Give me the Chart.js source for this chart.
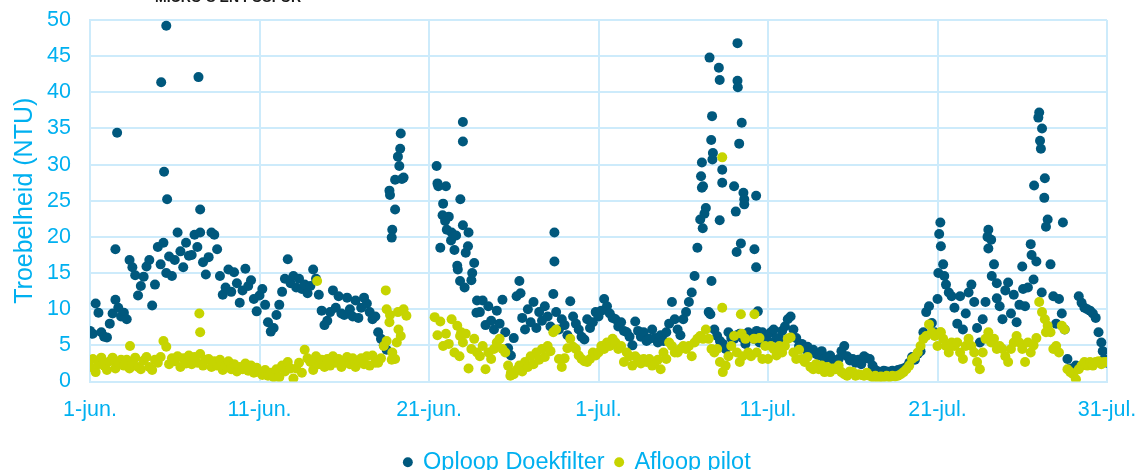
<!DOCTYPE html>
<html>
<head>
<meta charset="utf-8">
<script src="https://cdn.jsdelivr.net/npm/chart.js@4.4.1/dist/chart.umd.min.js"></script>
<style>
  html, body { margin: 0; padding: 0; background: #fff; }
  #wrap { position: relative; width: 1139px; height: 470px; overflow: hidden; }
  #title {
    position: absolute; left: 155px; top: -10px;
    font: bold 14px 'Liberation Sans', Arial, sans-serif; line-height: 14px;
    color: #1a1a1a; white-space: nowrap;
  }
  canvas { display: block; }
</style>
</head>
<body>
<div id="wrap">
  <canvas id="chart" width="1139" height="484"></canvas>
  <div id="title">MICRO-S EN FOSFOR</div>
</div>
<script>
// x = days since 1 June, 6 readings per day (every 4 h)
const tickLabels = ['1-jun.', '11-jun.', '21-jun.', '1-jul.', '11-jul.', '21-jul.', '31-jul.'];
const samplesPerDay = 6;

// Oploop Doekfilter (NTU), one row per day
const oploopValues = [
  7.0, 6.6, 10.8, 9.5, 6.8, 6.2,
  6.1, 8.0, 9.4, 11.3, 10.2, 9.0,
  9.5, 8.6, 16.8, 15.8, 14.7, 11.9,
  13.2, 14.5, 15.9, 16.8, 10.5, 13.4,
  18.6, 16.2, 19.2, 15.0, 17.3, 14.6,
  16.8, 20.6, 18.0, 15.8, 19.2, 17.4,
  17.5, 20.3, 18.6, 20.6, 16.5, 14.8,
  17.2, 20.6, 20.3, 18.3, 14.6, 12.0,
  13.0, 15.5, 12.4, 15.1, 13.6, 10.9,
  12.6, 15.6, 13.2, 14.0, 11.4, 9.7,
  11.9, 12.8, 10.6, 8.2, 6.9, 7.4,      // 11-jun
  9.2, 10.6, 12.4, 14.2, 16.9, 13.6,
  14.6, 13.0, 14.2, 12.8, 13.4, 12.2,
  13.2, 15.5, 14.2, 12.0, 9.8, 7.8,
  8.4, 9.6, 12.6, 10.2, 11.8, 9.4,
  9.2, 11.6, 10.0, 9.0, 11.2, 8.8,
  10.2, 11.6, 10.8, 9.6, 8.6, 9.0,
  6.8, 5.9, 5.0, 4.4, 26.4, 21.0,
  23.8, 31.1, 34.3, 28.2, null, null,
  null, null, null, null, null, null,
  null, null, null, 27.4, 18.5, 24.6,   // 21-jun
  27.0, 22.8, 20.6, 18.2, 16.0, 13.9,
  21.6, 17.8, 20.6, 14.0, 16.4, 11.2,
  9.6, 11.2, 7.8, 10.4, 8.4, 7.2,
  9.8, 8.0, 11.3, 6.8, 4.6, 3.6,
  6.0, 11.8, 13.9, 8.8, 7.2, 10.0,
  8.2, 11.0, 7.4, 9.6, 8.4, 10.4,
  9.0, 7.6, 12.1, 9.6, 7.2, 8.6,
  7.8, 6.4, 11.1, 9.0, 8.0, 7.2,
  6.2, 5.8, 8.6, 7.4, 8.2, 9.6,
  9.0, 9.8, 11.4, 10.4, 9.4, 8.8,       // 1-jul
  8.6, 7.6, 8.2, 7.0, 6.8, 6.2,
  5.0, 8.3, 7.0, 6.2, 6.8, 5.6,
  5.9, 7.2, 6.0, 5.4, 6.4, 5.6,
  6.8, 8.0, 11.0, 8.6, 7.2, 6.4,
  8.6, 9.6, 11.0, 12.3, 14.6, 18.5,
  22.4, 27.0, 24.0, 9.6, 13.9, 7.2,
  6.3, 5.6, 5.2, 4.5, 6.8, 6.0,
  5.9, 6.4, 6.6, 6.0, 5.2, 6.8,
  6.0, 5.9, 7.0, 5.4, 6.8, 6.3,
  5.6, 6.8, 7.2, 6.0, 5.9, 7.0,         // 11-jul
  7.6, 8.6, 9.0, 7.2, 6.0, 4.9,
  5.2, 4.5, 4.8, 4.0, 4.4, 3.8,
  3.6, 4.2, 3.1, 3.4, 3.6, 3.0,
  2.8, 3.1, 4.2, 4.9, 3.5, 2.9,
  3.1, 2.6, 3.0, 2.4, 3.5, 3.2,
  3.1, 2.2, 1.6, 1.4, 1.3, 1.5,
  1.4, 1.2, 1.5, 1.3, 1.6, 1.7,
  1.8, 2.0, 2.6, 3.4, 3.0, 3.8,
  4.2, 6.8, 9.6, 10.4, 8.1, 6.8,
  11.4, 22.0, 16.2, 13.4, 12.3, 11.8,   // 21-jul
  10.2, 8.0, 11.8, 7.2, 9.4, 12.3,
  13.4, 11.0, 7.4, 5.4, 8.6, 11.0,
  21.0, 19.6, 16.2, 13.6, 10.4, 8.6,
  12.6, 13.7, 9.4, 12.0, 8.2, 10.6,
  15.9, 10.4, 13.0, 19.0, 14.1, 16.6,
  37.2, 35.0, 28.1, 22.4, 16.2, 11.8,
  8.0, 11.4, 9.4, 7.2, 3.1, 1.8,
  1.7, 2.2, 11.8, 10.9, 10.2, 10.0,
  9.8, 9.4, 8.8, 6.8, 5.4, 3.1,
  2.6                                   // 31-jul
];

// Oploop readings off the 4-hour grid (peaks and scattered points)
const oploopExtraDays = [
  1.5, 1.6, 4.2, 4.37, 4.5, 4.55, 6.4, 6.5,
  17.7, 17.8, 18.0, 18.25, 18.3, 18.4,
  20.45, 20.55, 20.8, 20.95, 21.05, 21.3, 21.6, 21.85, 21.7, 22.0, 22.0,
  22.1, 22.3, 22.55, 22.8, 25.4, 27.4, 27.4,
  36.05, 36.1, 36.15, 36.25, 36.1, 36.55, 36.65, 36.7, 36.72, 36.75, 36.6,
  37.1, 37.15, 37.15, 37.3, 37.3,
  38.0, 38.1, 38.15, 38.2, 38.2, 38.22, 38.3, 38.4, 38.45, 38.55, 38.6, 38.6,
  39.2, 39.3, 39.3, 39.4,
  50.1, 50.2, 50.05, 50.4, 52.95, 53.0, 53.2, 53.5,
  55.05, 55.7, 55.55, 55.95, 56.05, 56.1, 56.3, 56.4, 56.15, 57.4, 59.75
];
const oploopExtraValues = [
  18.3, 34.4, 41.4, 29.0, 49.2, 25.2, 42.1, 23.8,
  25.8, 19.9, 27.9, 29.8, 32.2, 28.0,
  29.8, 27.0, 23.0, 22.2, 21.0, 19.5, 20.2, 25.2, 15.5, 35.9, 33.2,
  13.0, 18.7, 15.0, 9.5, 12.2, 20.6, 16.6,
  28.4, 30.3, 21.2, 23.2, 26.8, 44.8, 33.4, 36.7, 30.7, 31.6, 9.3,
  43.4, 41.7, 22.3, 29.3, 27.5,
  27.0, 23.5, 17.9, 46.8, 41.6, 40.7, 32.9, 19.1, 35.8, 26.1, 25.2, 24.5,
  18.3, 25.7, 15.8, 9.7,
  20.4, 18.7, 15.0, 14.6, 20.0, 18.4, 14.6, 11.5,
  12.8, 27.1, 17.5, 36.5, 33.3, 32.2, 25.4, 21.4, 12.3, 22.0, 4.2
];

// Afloop pilot (NTU), one row per day
const afloopValues = [
  2.0, 3.1, 1.3, 2.4, 3.3, 2.2,
  1.6, 2.8, 3.3, 1.8, 2.6, 3.0,
  2.2, 3.0, 1.8, 2.6, 3.3, 2.0,
  1.7, 2.9, 3.4, 2.0, 1.6, 3.0,
  2.6, 3.4, 5.6, 4.8, 2.4, 3.2,
  2.8, 3.5, 2.0, 3.2, 2.5, 3.6,
  2.4, 3.4, 2.6, 3.8, 2.2, 3.0,
  3.1, 2.0, 2.8, 2.2, 3.0, 1.6,
  2.2, 2.8, 1.7, 2.4, 1.4, 2.0,
  1.7, 2.5, 1.5, 2.2, 1.2, 1.9,
  1.3, 0.9, 1.6, 0.8, 1.2, 0.6,         // 11-jun
  1.7, 0.6, 2.2, 1.4, 2.7, 1.8,
  0.4, 1.8, 2.6, 1.2, 4.4, 3.2,
  2.7, 1.6, 3.5, 2.4, 3.0, 2.0,
  3.1, 2.2, 3.5, 2.6, 3.1, 2.0,
  2.8, 3.4, 2.4, 3.2, 2.0, 2.9,
  3.2, 2.4, 3.5, 2.2, 3.6, 2.6,
  2.6, 3.2, 4.9, 5.6, 8.2, 4.0,
  3.1, 9.6, 6.3, 10.0, 9.1, null,
  null, null, null, null, null, null,
  null, null, 8.9, 6.4, 8.3, 4.9,       // 21-jun
  6.6, 5.2, 8.6, 4.0, 7.7, 6.3,
  5.4, 6.6, 1.8, 4.5, 5.9, 4.0,
  3.5, 4.9, 1.7, 4.0, 3.1, 4.5,
  5.4, 5.9, 4.5, 4.0, 2.2, 1.2,
  1.0, 1.6, 2.2, 1.4, 2.7, 2.0,
  3.5, 2.4, 4.0, 3.0, 4.5, 3.4,
  4.9, 4.2, 6.8, 7.2, 3.1, 2.0,
  3.2, 4.6, 5.9, 4.8, 4.5, 3.6,
  3.1, 2.8, 2.7, 3.1, 4.0, 3.6,
  4.0, 4.9, 4.5, 5.4, 4.9, 5.9,         // 1-jul
  5.4, 4.5, 4.9, 2.7, 4.0, 3.5,
  2.2, 3.5, 3.1, 2.5, 3.1, 2.7,
  3.1, 2.2, 2.7, 3.0, 1.7, 4.0,
  3.1, 5.4, 4.9, 4.0, 4.0, 4.5,
  4.9, 4.5, 4.9, 3.5, 5.4, 5.9,
  6.3, 5.9, 7.2, 5.9, 4.5, 4.0,
  4.5, 2.7, 1.3, 2.2, 3.5, 4.9,
  6.3, 4.0, 2.7, 3.5, 5.9, 4.0,
  3.5, 5.9, 4.0, 6.0, 3.1, 4.9,
  3.1, 4.9, 4.5, 3.6, 4.9, 4.0,         // 11-jul
  4.9, 5.9, 6.1, 4.0, 3.1, 4.4,
  3.1, 2.7, 3.4, 2.0, 1.7, 2.4,
  1.7, 2.2, 1.3, 2.0, 1.3, 1.8,
  1.7, 2.2, 1.3, 1.0, 0.8, 1.4,
  1.3, 0.8, 1.0, 0.9, 0.8, 1.2,
  0.8, 0.6, 0.8, 0.5, 0.7, 0.6,
  0.8, 0.6, 0.8, 0.7, 0.8, 1.0,
  1.3, 1.7, 2.2, 3.1, 3.4, 4.0,
  4.9, 5.9, 6.3, 7.9, 6.8, 6.3,
  4.9, 6.8, 5.9, 4.9, 4.0, 5.4,         // 21-jul
  4.9, 5.4, 4.0, 3.1, 4.9, 5.9,
  4.9, 4.0, 2.7, 1.7, 4.0, 5.9,
  6.8, 5.4, 5.9, 4.5, 4.9, 4.5,
  3.5, 2.7, 4.5, 5.4, 6.3, 5.4,
  4.5, 2.7, 5.4, 4.0, 5.0, 6.0,
  11.0, 9.6, 8.6, 7.7, 6.8, 4.5,
  4.9, 4.0, 7.7, 7.2, 1.7, 1.3,
  1.0, 0.3, 1.7, 2.2, 2.7, 2.2,
  2.7, 2.2, 2.7, 2.8, 2.4, 2.7,
  2.7                                   // 31-jul
];

const afloopExtraDays = [2.36, 6.45, 6.5, 13.4, 17.45, 17.5, 17.7, 17.8, 18.1, 18.2,
  21.8, 21.9, 24.8, 37.3, 37.3, 38.4, 38.45, 39.2, 50.2, 56.4];
const afloopExtraValues = [4.9, 9.4, 6.8, 13.9, 12.6, 10.0, 9.2, 3.0, 5.4, 7.2,
  3.5, 6.8, 0.8, 31.0, 10.2, 9.3, 6.6, 9.3, 6.8, 6.8];

// ---

const blueText = '#00b0f0';
const gridColor = '#cdebfb';
const fontFamily = "'Liberation Sans', Arial, sans-serif";

function buildPoints(values, extraDays, extraValues) {
  const points = [];
  values.forEach((v, i) => {
    if (v !== null) points.push({ x: i / samplesPerDay, y: v });
  });
  extraDays.forEach((d, i) => points.push({ x: d, y: extraValues[i] }));
  return points;
}

const legendShift = {
  id: 'legendShift',
  afterLayout(chart) {
    chart.legend.left += 24;
    chart.legend.right += 24;
  },
};

new Chart(document.getElementById('chart'), {
  type: 'scatter',
  data: {
    datasets: [
      {
        label: 'Oploop Doekfilter',
        data: buildPoints(oploopValues, oploopExtraDays, oploopExtraValues),
        backgroundColor: '#00587d',
        borderColor: '#00587d',
        borderWidth: 0,
        pointRadius: 5,
        pointStyle: 'circle',
        order: 1,
      },
      {
        label: 'Afloop pilot',
        data: buildPoints(afloopValues, afloopExtraDays, afloopExtraValues),
        backgroundColor: '#c6d400',
        borderColor: '#c6d400',
        borderWidth: 0,
        pointRadius: 5,
        pointStyle: 'circle',
        order: 0,
      },
    ],
  },
  options: {
    responsive: false,
    animation: false,
    devicePixelRatio: 1,
    events: [],
    layout: {
      padding: { top: 20, right: 32, bottom: 0, left: 0 },
    },
    scales: {
      x: {
        type: 'linear',
        min: 0,
        max: 60,
        afterFit(scale) {
          scale.height = 58;
          scale.paddingLeft = 0;
          scale.paddingRight = 0;
        },
        ticks: {
          stepSize: 10,
          autoSkip: false,
          maxRotation: 0,
          padding: 16,
          color: blueText,
          font: { family: fontFamily, size: 21.5 },
          callback: (value) => tickLabels[value / 10],
        },
        grid: { color: gridColor, lineWidth: 2, drawTicks: false },
        border: { color: gridColor, width: 2 },
      },
      y: {
        min: 0,
        max: 50,
        afterFit(scale) {
          scale.width = 90;
          scale.paddingTop = 0;
          scale.paddingBottom = 0;
        },
        ticks: {
          stepSize: 5,
          padding: 19,
          color: blueText,
          font: { family: fontFamily, size: 21.5 },
        },
        grid: { color: gridColor, lineWidth: 2, drawTicks: false },
        border: { color: gridColor, width: 2 },
        title: {
          display: true,
          text: 'Troebelheid (NTU)',
          color: blueText,
          font: { family: fontFamily, size: 25 },
          padding: { top: 10, bottom: 0 },
        },
      },
    },
    plugins: {
      legend: {
        position: 'bottom',
        labels: {
          usePointStyle: true,
          boxWidth: 7,
          boxHeight: 7,
          padding: 11,
          color: blueText,
          font: { family: fontFamily, size: 23.5 },
          sort: (a, b) => a.datasetIndex - b.datasetIndex,
        },
      },
      tooltip: { enabled: false },
    },
  },
  plugins: [legendShift],
});
</script>
</body>
</html>
